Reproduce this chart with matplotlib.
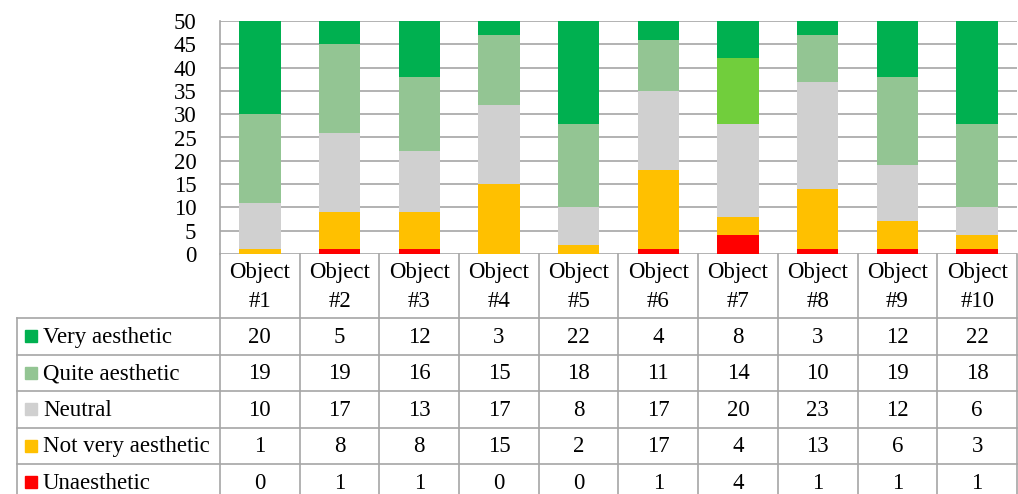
import numpy as np
import matplotlib.pyplot as plt
from matplotlib.patches import Rectangle

# DATA
objects = ['Object\n#1', 'Object\n#2', 'Object\n#3', 'Object\n#4', 'Object\n#5',
           'Object\n#6', 'Object\n#7', 'Object\n#8', 'Object\n#9', 'Object\n#10']
unaesthetic = [0, 1, 1, 0, 0, 1, 4, 1, 1, 1]
not_very = [1, 8, 8, 15, 2, 17, 4, 13, 6, 3]
neutral = [10, 17, 13, 17, 8, 17, 20, 23, 12, 6]
quite = [19, 19, 16, 15, 18, 11, 14, 10, 19, 18]
very = [20, 5, 12, 3, 22, 4, 8, 3, 12, 22]

series_names = ['Unaesthetic', 'Not very aesthetic', 'Neutral',
                'Quite aesthetic', 'Very aesthetic']
series_vals = [unaesthetic, not_very, neutral, quite, very]
colors = ['#FF0000', '#FFC000', '#D0D0D0', '#93C593', '#00B050']
highlight = '#71CE3C'   # object #7 "quite aesthetic" segment

plt.rcParams['font.family'] = ['Liberation Serif', 'DejaVu Serif']
FS = 16.5

W, H = 1018, 494
fig = plt.figure(figsize=(W / 100, H / 100), dpi=100)

# plot area in pixel coords
px0, px1, py_top, py_bot = 220, 1017, 21, 254
ax = fig.add_axes([px0 / W, 1 - py_bot / H, (px1 - px0) / W, (py_bot - py_top) / H])

x = np.arange(len(objects))
bottom = np.zeros(len(objects))
for name, vals, c in zip(series_names, series_vals, colors):
    cols = [c] * len(objects)
    if name == 'Quite aesthetic':
        cols[6] = highlight
    ax.bar(x, vals, width=0.52, bottom=bottom, color=cols, zorder=3)
    bottom += np.array(vals)

ax.set_xlim(-0.5, len(objects) - 0.5)
ax.set_ylim(0, 50)
ax.set_yticks(np.arange(0, 51, 5))
ax.set_xticks([])
ax.yaxis.grid(True, color='#A6A6A6', linewidth=1.2, zorder=0)
for s in ['top', 'right', 'bottom']:
    ax.spines[s].set_visible(False)
ax.spines['left'].set_color('#A6A6A6')
ax.spines['left'].set_linewidth(1.2)
ax.tick_params(axis='y', length=0, labelsize=FS, pad=17)

# TABLE (overlay in pixel coords)
tx = fig.add_axes([0, 0, 1, 1])
tx.set_xlim(0, W)
tx.set_ylim(H, 0)
tx.axis('off')

lc = '#A6A6A6'
lw = 1.2
colw = (px1 - px0) / len(objects)
col_edges = [px0 + i * colw for i in range(len(objects) + 1)]
head_bot = 318
row_h = 36.5
row_edges = [head_bot + i * row_h for i in range(6)]
label_left = 17

# header cells
for xe in col_edges:
    tx.plot([xe, xe], [py_bot, row_edges[-1]], color=lc, lw=lw)
tx.plot([label_left, label_left], [head_bot, row_edges[-1]], color=lc, lw=lw)
for ye in row_edges[:-1]:
    tx.plot([label_left, px1], [ye, ye], color=lc, lw=lw)

for i, lab in enumerate(objects):
    tx.text(col_edges[i] + colw / 2, (py_bot + head_bot) / 2 + 1, lab,
            ha='center', va='center', fontsize=FS, linespacing=1.5)

rows = list(zip(series_names, series_vals, colors))[::-1]
for r, (name, vals, c) in enumerate(rows):
    yc = row_edges[r] + row_h / 2
    tx.add_patch(Rectangle((25, yc - 6), 12, 12, color=c))
    tx.text(43, yc + 1, name, ha='left', va='center', fontsize=FS)
    for i, v in enumerate(vals):
        tx.text(col_edges[i] + colw / 2, yc + 1, str(v), ha='center',
                va='center', fontsize=FS)

fig.savefig('out.png', dpi=100)
